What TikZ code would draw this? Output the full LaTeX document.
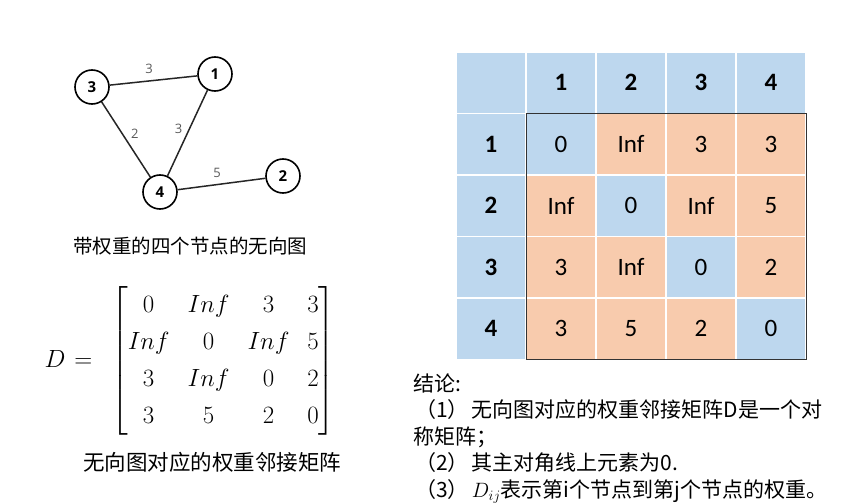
\documentclass[tikz,border=0pt]{standalone}
\usepackage{amsmath}
\usepackage[no-math]{fontspec}
\setmainfont{Carlito}
\newfontfamily\cjk[Kerning=Off]{Noto Sans CJK SC}
\newfontfamily\segoe{Open Sans}
\usetikzlibrary{positioning}
\definecolor{CellBlue}   {HTML}{BDD7EE}
\definecolor{CellOrange} {HTML}{F8CBAD}
\definecolor{WeightGray} {HTML}{595959}
\newcommand{\notenum}[1]{\hspace{2pt}（#1）\hspace{3pt}}

\begin{document}
\begin{tikzpicture}[
  x=1pt, y=-1pt,
  vert/.style  = {draw, circle, line width=1.6pt, minimum size=34pt, inner sep=0pt,
                  font=\segoe\bfseries\fontsize{15}{15}\selectfont},
  link/.style  = {line width=1.5pt, black!85},
  wlbl/.style  = {font=\segoe\fontsize{13}{13}\selectfont, WeightGray},
  capt/.style  = {anchor=west, inner sep=0pt, font=\cjk\fontsize{19.5}{19.5}\selectfont},
  cell/.style  = {draw=white, line width=1.5pt, minimum width=70pt, minimum height=61.5pt,
                  inner sep=0pt, outer sep=0pt, font=\fontsize{25}{25}\selectfont},
  hcell/.style = {cell, fill=CellBlue, font=\bfseries\fontsize{25}{25}\selectfont},
  bcell/.style = {cell, fill=CellBlue},
  ocell/.style = {cell, fill=CellOrange},
  note/.style  = {anchor=north west, inner sep=0pt, align=left,
                  font=\cjk\fontsize{21}{26.5}\selectfont},
]
\useasboundingbox (0,0) rectangle (865,503);

% weighted graph
\node[vert] (n3) at (92,87)   {3};
\node[vert] (n1) at (215,74)  {1};
\node[vert] (n4) at (160,192) {4};
\node[vert] (n2) at (283,176) {2};
\draw[link] (n3) -- node[wlbl, pos=0.45, above=3pt]{3} (n1);
\draw[link] (n3) -- node[wlbl, pos=0.42, right=5pt]{2} (n4);
\draw[link] (n1) -- node[wlbl, pos=0.45, left=3pt]{3}  (n4);
\draw[link] (n4) -- node[wlbl, pos=0.45, above=3pt]{5} (n2);
\node[capt] (gcap) at (73,246.5) {带权重的四个节点的无向图};

% matrix form
\node[font=\fontsize{24}{28.8}\selectfont] (dmat) at (190,361)
  {\arraycolsep=9pt\renewcommand{\arraystretch}{1.285}%
   $D\hspace{2pt}=\hspace{12pt}\begin{bmatrix}
     0 & Inf & 3 & 3\\
     Inf & 0 & Inf & 5\\
     3 & Inf & 0 & 2\\
     3 & 5 & 2 & 0
   \end{bmatrix}$};
\node[capt, font=\cjk\fontsize{21.5}{21.5}\selectfont] (mcap) at (83,462)
  {无向图对应的权重邻接矩阵};

% table
\node[bcell] (c00) at (491,82.75) {};
\node[hcell, right=0pt of c00] (h1) {1};
\node[hcell, right=0pt of h1]  (h2) {2};
\node[hcell, right=0pt of h2]  (h3) {3};
\node[hcell, right=0pt of h3]  (h4) {4};
\node[hcell, below=0pt of c00] (r1) {1};
\node[hcell, below=0pt of r1]  (r2) {2};
\node[hcell, below=0pt of r2]  (r3) {3};
\node[hcell, below=0pt of r3]  (r4) {4};
\node[bcell, right=0pt of r1]  (d11) {0};
\node[ocell, right=0pt of d11] (d12) {Inf};
\node[ocell, right=0pt of d12] (d13) {3};
\node[ocell, right=0pt of d13] (d14) {3};
\node[ocell, right=0pt of r2]  (d21) {Inf};
\node[bcell, right=0pt of d21] (d22) {0};
\node[ocell, right=0pt of d22] (d23) {Inf};
\node[ocell, right=0pt of d23] (d24) {5};
\node[ocell, right=0pt of r3]  (d31) {3};
\node[ocell, right=0pt of d31] (d32) {Inf};
\node[bcell, right=0pt of d32] (d33) {0};
\node[ocell, right=0pt of d33] (d34) {2};
\node[ocell, right=0pt of r4]  (d41) {3};
\node[ocell, right=0pt of d41] (d42) {5};
\node[ocell, right=0pt of d42] (d43) {2};
\node[bcell, right=0pt of d43] (d44) {0};
\draw[line width=0.9pt, black!80] (d11.north west) rectangle (d44.south east);

% conclusion
\node[note] (concl) at (413,373.5)
  {结论:\\
   \notenum{1}无向图对应的权重邻接矩阵D是一个对\\
   称矩阵；\\
   \notenum{2}其主对角线上元素为0.\\
   \notenum{3}$D_{ij}$表示第i个节点到第j个节点的权重。};
\end{tikzpicture}
\end{document}
